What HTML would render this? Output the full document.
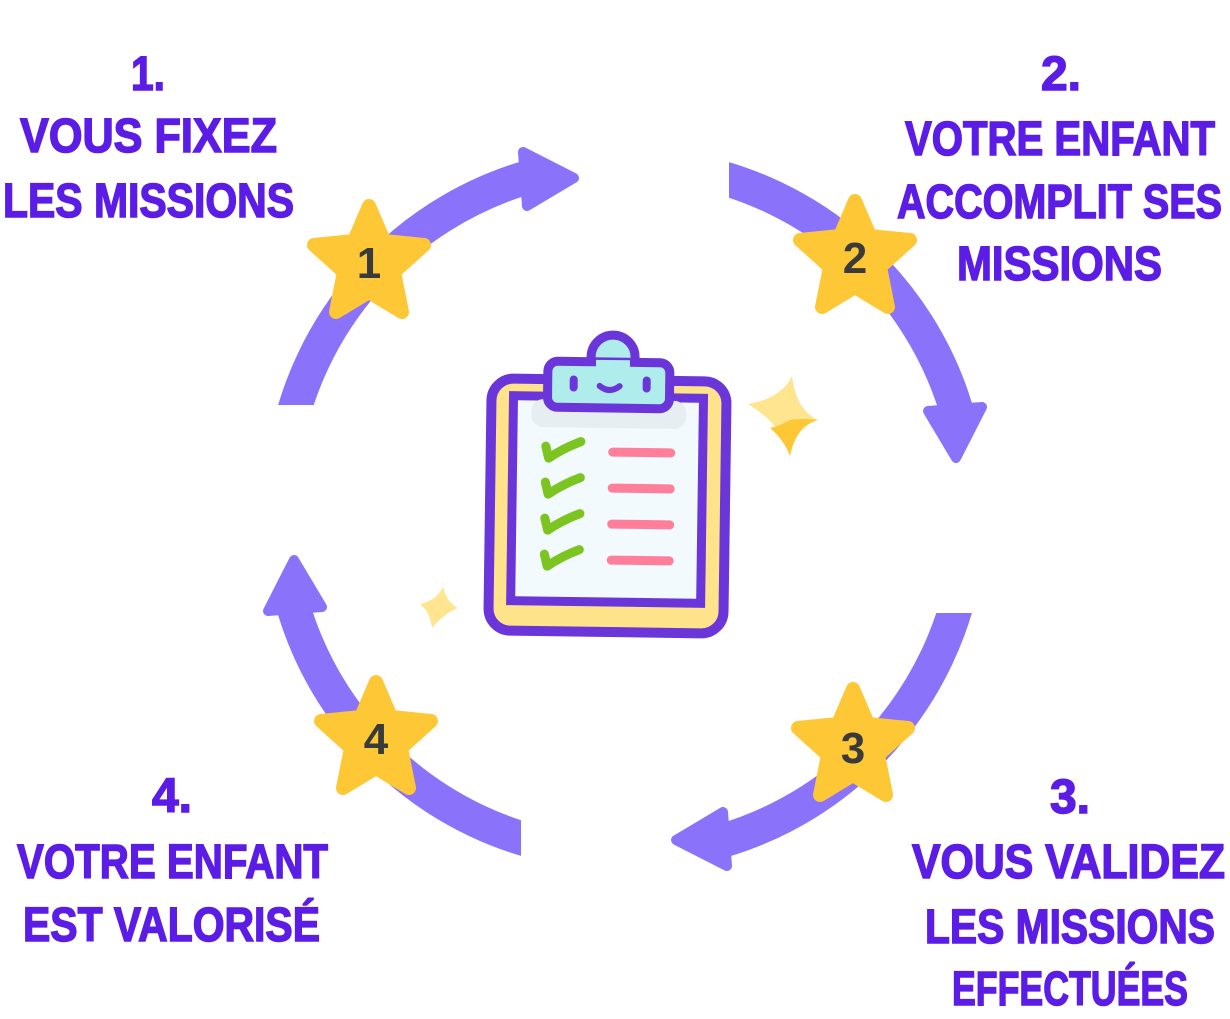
<!DOCTYPE html>
<html><head><meta charset="utf-8"><style>
html,body{margin:0;padding:0;background:#fff;}
svg{display:block}
text{font-family:"Liberation Sans",sans-serif;font-weight:bold;fill:#5B1DE6;}
</style></head><body>
<svg width="1230" height="1019" viewBox="0 0 1230 1019" xmlns="http://www.w3.org/2000/svg">
<defs>
<clipPath id="cp"><rect x="0" y="0" width="1230" height="405"/></clipPath>
<g id="arc">
<path d="M 285.2 449 A 345 345 0 0 1 525 178" fill="none" stroke="#8A72FA" stroke-width="34" clip-path="url(#cp)"/>
<polygon points="523,152 574,178 527,206" fill="#8A72FA" stroke="#8A72FA" stroke-width="10" stroke-linejoin="round"/>
</g>
<polygon id="star" points="0,-56 15,-21 55,-17 25,10 33,50 0,30 -33,50 -25,10 -55,-17 -15,-21" fill="#FDC735" stroke="#FDC735" stroke-width="14" stroke-linejoin="round"/>
</defs>
<use href="#arc"/>
<use href="#arc" transform="rotate(90 625 509)"/>
<use href="#arc" transform="rotate(180 625 509)"/>
<use href="#arc" transform="rotate(270 625 509)"/>

<g transform="translate(369,262)"><use href="#star"/></g>
<g transform="translate(855,257)"><use href="#star"/></g>
<g transform="translate(853,745)"><use href="#star"/></g>
<g transform="translate(376,738)"><use href="#star"/></g>
<g font-size="44" text-anchor="middle">
<text x="369" y="278" style="fill:#3A3A3A">1</text>
<text x="855" y="273" style="fill:#3A3A3A">2</text>
<text x="853" y="763" style="fill:#3A3A3A">3</text>
<text x="376" y="754" style="fill:#3A3A3A">4</text>
</g>

<g transform="rotate(0.8 607 505)">
<rect x="490" y="380" width="235" height="252" rx="22" fill="#FFE38A" stroke="#6A35D9" stroke-width="10"/>
<rect x="512" y="397" width="190" height="205" fill="#F2FAFD" stroke="#6A35D9" stroke-width="9"/>
<rect x="530" y="400" width="155" height="28" rx="12" fill="#E7EEF1"/>
<circle cx="611" cy="357" r="22" fill="#AEEDEC" stroke="#6A35D9" stroke-width="9"/>
<rect x="546" y="362" width="122" height="46" rx="10" fill="#AEEDEC" stroke="#6A35D9" stroke-width="9"/>
<rect x="594" y="360" width="34" height="12" fill="#AEEDEC"/>
<line x1="572" y1="380" x2="572" y2="388" stroke="#6A35D9" stroke-width="8" stroke-linecap="round"/>
<line x1="645" y1="380" x2="645" y2="388" stroke="#6A35D9" stroke-width="8" stroke-linecap="round"/>
<path d="M598 386 Q608 394 618 386" fill="none" stroke="#6A35D9" stroke-width="6" stroke-linecap="round"/>
<g fill="none" stroke="#7CC520" stroke-width="9" stroke-linecap="round" stroke-linejoin="round">
<path d="M545 447 L548 459 Q562 449 580 442"/>
<path d="M545 483 L548 495 Q562 485 580 478"/>
<path d="M545 519 L548 531 Q562 521 580 514"/>
<path d="M545 555 L548 567 Q562 557 580 550"/>
</g>
<g stroke="#FF7F9A" stroke-width="9" stroke-linecap="round">
<line x1="612" y1="452" x2="670" y2="452"/>
<line x1="612" y1="488" x2="670" y2="488"/>
<line x1="612" y1="524" x2="670" y2="524"/>
<line x1="612" y1="560" x2="670" y2="560"/>
</g>
</g>

<path d="M792 376 Q796 410 818 420 Q796 426 790 456 Q784 426 748 404 Q782 398 792 376 Z" fill="#FFE58F"/>
<path d="M790 420 Q805 418 818 420 Q796 426 790 456 Q784 440 770 428 Q780 426 790 420Z" fill="#FDC735"/>
<path d="M443 586 Q446 602 458 608 Q446 612 432 628 Q430 612 420 604 Q438 600 443 586Z" fill="#FFE58F"/>

<g font-size="48" text-anchor="start" stroke="#5B1DE6" stroke-width="1.5">
<text x="131" y="90" textLength="34" lengthAdjust="spacingAndGlyphs">1.</text>
<text x="20" y="152" textLength="257" lengthAdjust="spacingAndGlyphs">VOUS FIXEZ</text>
<text x="3" y="217" textLength="291" lengthAdjust="spacingAndGlyphs">LES MISSIONS</text>

<text x="1041" y="90" textLength="40" lengthAdjust="spacingAndGlyphs">2.</text>
<text x="905" y="155" textLength="310" lengthAdjust="spacingAndGlyphs">VOTRE ENFANT</text>
<text x="897" y="218" textLength="325" lengthAdjust="spacingAndGlyphs">ACCOMPLIT SES</text>
<text x="957" y="280" textLength="205" lengthAdjust="spacingAndGlyphs">MISSIONS</text>

<text x="1050" y="813" textLength="40" lengthAdjust="spacingAndGlyphs">3.</text>
<text x="912" y="878" textLength="313" lengthAdjust="spacingAndGlyphs">VOUS VALIDEZ</text>
<text x="925" y="943" textLength="290" lengthAdjust="spacingAndGlyphs">LES MISSIONS</text>
<text x="952" y="1005" textLength="236" lengthAdjust="spacingAndGlyphs">EFFECTUÉES</text>

<text x="152" y="812" textLength="40" lengthAdjust="spacingAndGlyphs">4.</text>
<text x="17" y="878" textLength="311" lengthAdjust="spacingAndGlyphs">VOTRE ENFANT</text>
<text x="23" y="941" textLength="297" lengthAdjust="spacingAndGlyphs">EST VALORISÉ</text>
</g>
</svg>
</body></html>
